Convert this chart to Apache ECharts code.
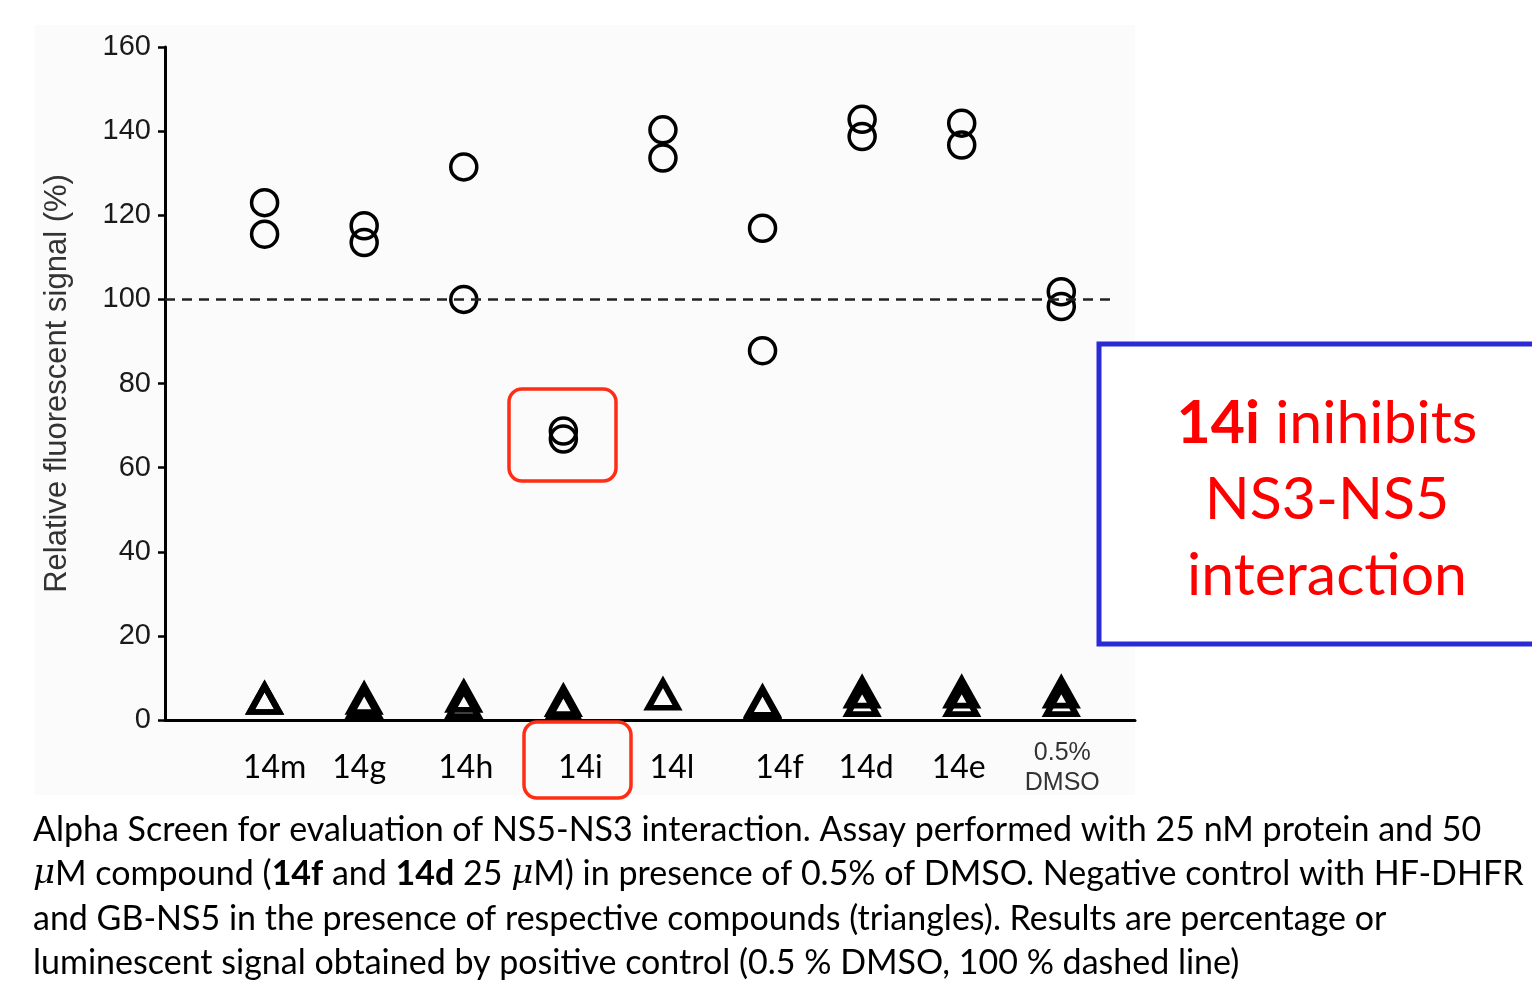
<!DOCTYPE html>
<html><head><meta charset="utf-8">
<script src="https://cdn.jsdelivr.net/npm/echarts@6/dist/echarts.min.js"></script>
<style>html,body{margin:0;padding:0;background:#fff}#c{width:1532px;height:983px}</style>
</head><body><div id="c"></div>
<script>
// ---- data ----
const categories = ['14m', '14g', '14h', '14i', '14l', '14f', '14d', '14e', '0.5%\nDMSO'];
const circleValues = [
  [123, 115.5], [117.5, 113.5], [131.5, 100], [68.7, 66.8], [140.3, 133.6],
  [116.9, 87.8], [142.8, 138.7], [141.9, 136.7], [101.8, 98.3]
];
const triangleValues = [
  [5, 5], [5, 4], [5.5, 4], [4.5, 3.5], [6], [4.3, 4], [6.5, 4.5], [6.5, 4.5], [6.5, 4.5]
];
const yTickLabels = [0, 20, 40, 60, 80, 100, 120, 140, 160];
const referenceLevel = 100;
const referenceLineEnd = 9.55;
const yAxisTitle = 'Relative fluorescent signal (%)';
const calloutLines = ['{b|14i} inihibits', 'NS3-NS5', 'interaction'];
const captionLines = [
  'Alpha Screen for evaluation of NS5-NS3 interaction. Assay performed with 25 nM protein and 50',
  '{i|μ}M compound ({b|14f} and {b|14d} 25 {i|μ}M) in presence of 0.5% of DMSO. Negative control with HF-DHFR',
  'and GB-NS5 in the presence of respective compounds (triangles). Results are percentage or',
  'luminescent signal obtained by positive control (0.5 % DMSO, 100 % dashed line)'
];

// ---- build ----
const circleData = [];
circleValues.forEach((vals, i) => vals.forEach(v => circleData.push([i + 1, v])));
const triData = [];
triangleValues.forEach((vals, i) => vals.forEach(v => triData.push([i + 1, v])));

const labelShift = [10, -5, 2, 17, 9, 17, 4, -3, 1];
const rich = {};
categories.forEach((c, i) => {
  const s = labelShift[i];
  rich['s' + i] = {
    fontFamily: 'Lato', fontSize: 32, color: '#000', lineHeight: 36,
    padding: s >= 0 ? [0, 0, 0, 2 * s] : [0, -2 * s, 0, 0]
  };
});
rich.dm = { fontFamily: 'Liberation Sans', fontSize: 25, color: '#333', lineHeight: 30, padding: [0, 0, 0, 2] };

const chart = echarts.init(document.getElementById('c'), null, { renderer: 'canvas' });
const FS = 'Liberation Sans';
const CF = 34;

const caption = captionLines.map((t, i) => ({
  type: 'text', left: 33, top: 813 + i * 44.5,
  style: {
    text: t, font: CF + 'px Lato', fill: '#000',
    rich: {
      b: { fontWeight: 'bold', fontSize: CF, fontFamily: 'Lato', fill: '#000' },
      i: { fontStyle: 'italic', fontSize: CF, fontFamily: 'DejaVu Serif', fill: '#000' }
    }
  }
}));

const callout = calloutLines.map((t, i) => ({
  type: 'text', x: 1327, y: 424 + i * 76, z: 60,
  style: {
    text: t, font: '59px Lato', fill: '#ff0000',
    textAlign: 'center', textVerticalAlign: 'middle', align: 'center', verticalAlign: 'middle',
    rich: { b: { fontWeight: 'bold', fontSize: 59, fontFamily: 'Lato', fill: '#ff0000' } }
  }
}));

chart.setOption({
  backgroundColor: '#fff',
  animation: false,
  grid: { left: 165, top: 47, width: 970, height: 673 },
  xAxis: {
    type: 'value', min: 0, max: 9.74, interval: 1,
    splitLine: { show: false },
    axisLine: { show: true, lineStyle: { color: '#000', width: 3 } },
    axisTick: { show: false },
    axisLabel: {
      margin: 48, verticalAlign: 'middle', showMaxLabel: false, showMinLabel: false,
      formatter: v => {
        const i = Math.round(v) - 1;
        if (i < 0 || i >= categories.length || Math.abs(v - i - 1) > 1e-6) return '';
        if (categories[i].indexOf('\n') >= 0) return categories[i].split('\n').map(p => '{dm|' + p + '}').join('\n');
        return '{s' + i + '|' + categories[i] + '}';
      },
      rich: rich
    }
  },
  yAxis: {
    type: 'value', min: 0, max: 160, interval: 20,
    name: yAxisTitle, nameLocation: 'middle', nameGap: 92, nameRotate: 90,
    nameTextStyle: { fontFamily: FS, fontSize: 31, color: '#333' },
    splitLine: { show: false },
    axisLine: { show: true, lineStyle: { color: '#000', width: 3 } },
    axisTick: { show: true, length: 7, lineStyle: { color: '#000', width: 2.5 } },
    axisLabel: {
      margin: 14, fontFamily: FS, fontSize: 29, color: '#1a1a1a',
      formatter: v => (yTickLabels.indexOf(v) >= 0 ? String(v) : '')
    }
  },
  series: [
    {
      type: 'scatter', data: circleData, symbol: 'circle', symbolSize: 26,
      itemStyle: { color: 'rgba(255,255,255,0)', borderColor: '#000', borderWidth: 3.5, opacity: 1 },
      markLine: {
        silent: true, symbol: ['none', 'none'], label: { show: false },
        lineStyle: { type: [10, 7], color: '#222', width: 2.5 },
        data: [[{ coord: [0, referenceLevel] }, { coord: [referenceLineEnd, referenceLevel] }]]
      },
      z: 3
    },
    {
      type: 'scatter', data: triData, symbol: 'triangle', symbolSize: [29, 26],
      itemStyle: { color: 'rgba(255,255,255,0)', borderColor: '#000', borderWidth: 6, opacity: 1 },
      z: 3
    }
  ],
  graphic: [
    { type: 'rect', z: -100, shape: { x: 35, y: 25, width: 1100, height: 770 }, style: { fill: '#fbfbfb' } },
    { type: 'rect', z: 50, shape: { x: 509, y: 389, width: 107, height: 92, r: 13 }, style: { fill: 'none', stroke: '#ff2d14', lineWidth: 3.5 } },
    { type: 'rect', z: 50, shape: { x: 524, y: 722, width: 107, height: 76, r: 13 }, style: { fill: 'none', stroke: '#ff2d14', lineWidth: 3.5 } },
    { type: 'rect', z: 50, shape: { x: 1099, y: 344, width: 460, height: 300 }, style: { fill: '#fff', stroke: '#2b2bd6', lineWidth: 5 } },
    ...callout,
    ...caption
  ]
});
</script></body></html>
